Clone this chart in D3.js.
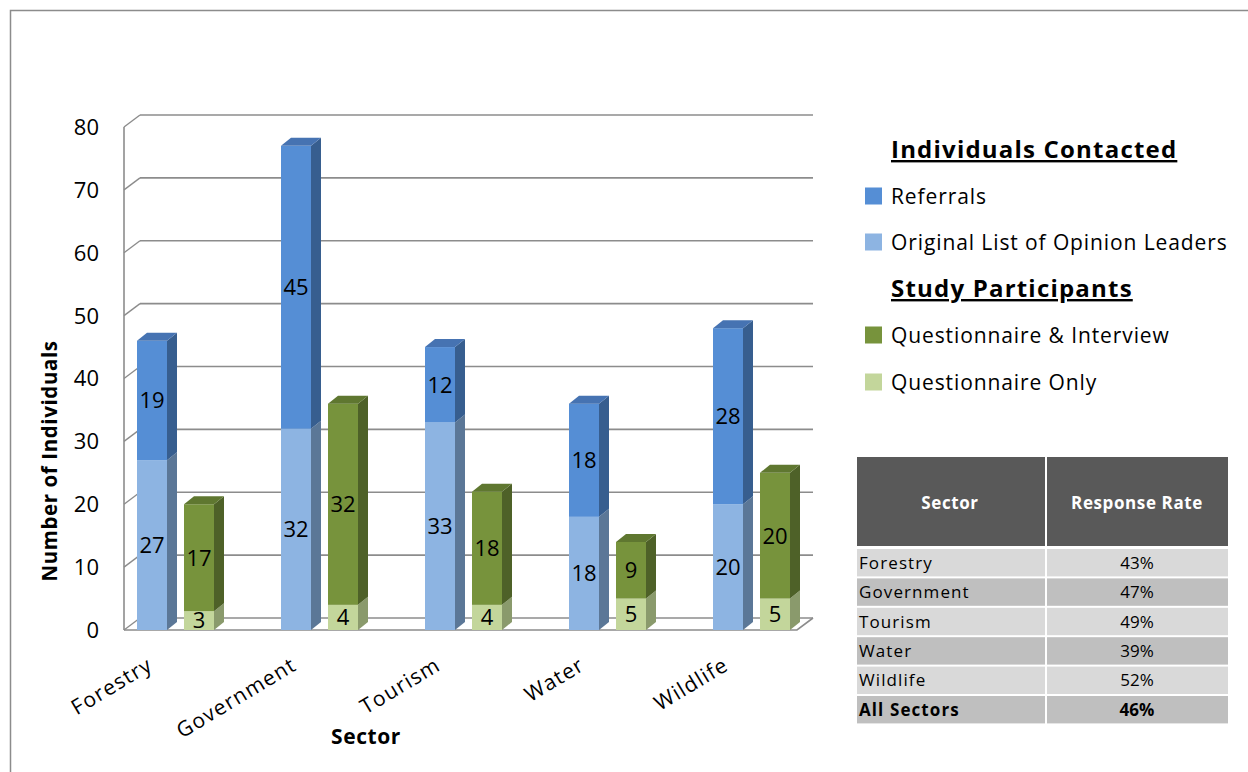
<!DOCTYPE html>
<html>
<head>
<meta charset="utf-8">
<script src="https://cdn.jsdelivr.net/npm/d3@7"></script>
<style>
  html, body { margin: 0; padding: 0; background: #fff; }
  svg { display: block; font-family: "Open Sans", "Noto Sans", sans-serif; }
</style>
</head>
<body>
<svg id="chart" width="1248" height="772"></svg>
<script>
// ---- Data ----
const sectors = ["Forestry", "Government", "Tourism", "Water", "Wildlife"];
const originalList = [27, 32, 33, 18, 20];          // Original List of Opinion Leaders
const referrals = [19, 45, 12, 18, 28];             // Referrals
const questionnaireOnly = [3, 4, 4, 5, 5];          // Questionnaire Only
const questionnaireInterview = [17, 32, 18, 9, 20]; // Questionnaire & Interview
const yTicks = [0, 10, 20, 30, 40, 50, 60, 70, 80];

const tableSectors = ["Forestry", "Government", "Tourism", "Water", "Wildlife", "All Sectors"];
const responseRates = ["43%", "47%", "49%", "39%", "52%", "46%"];

// ---- Styles ----
const colors = {
  referrals:   { front: "#558ED5", side: "#375E8F", top: "#4673B2" },
  original:    { front: "#8DB4E2", side: "#5B7797", top: "#7499C4" },
  qInterview:  { front: "#77933C", side: "#4E6128", top: "#5F7730" },
  qOnly:       { front: "#C3D69B", side: "#8A9A6C", top: "#A7B984" }
};

const svg = d3.select("#chart");

// Outer frame
svg.append("path")
  .attr("d", "M10.5,772 V10.5 H1248")
  .attr("fill", "none").attr("stroke", "#8c8c8c").attr("stroke-width", 1.5);

// ---- Scales ----
const y = d3.scaleLinear().domain([0, 80]).range([630, 127]);
const x0 = d3.scaleBand().domain(sectors).range([115, 835]).paddingInner(0).paddingOuter(0);
const x1 = d3.scaleBand().domain(["contacted", "participants"]).range([22, 99]).paddingInner(0.3617);

const axisX = 124, floorRight = 797;
const wallDX = 16, wallDY = -12;   // depth of back wall
const barDX = 10, barDY = -8;      // depth of each bar

// ---- Back wall gridlines ----
const grid = svg.append("g");
yTicks.forEach(t => {
  const yy = y(t);
  grid.append("line")
    .attr("x1", axisX + wallDX).attr("x2", floorRight + wallDX)
    .attr("y1", yy + wallDY).attr("y2", yy + wallDY)
    .attr("stroke", "#8c8c8c").attr("stroke-width", 1.6);
  grid.append("line")
    .attr("x1", axisX).attr("x2", axisX + wallDX)
    .attr("y1", yy).attr("y2", yy + wallDY)
    .attr("stroke", "#8c8c8c").attr("stroke-width", 1.4);
});
// floor front edge and right edge
grid.append("path")
  .attr("d", `M${axisX},${y(0)} H${floorRight} L${floorRight + wallDX},${y(0) + wallDY}`)
  .attr("fill", "none").attr("stroke", "#8c8c8c").attr("stroke-width", 1.6);
// front vertical axis
grid.append("line")
  .attr("x1", axisX).attr("x2", axisX)
  .attr("y1", y(80)).attr("y2", y(0))
  .attr("stroke", "#8c8c8c").attr("stroke-width", 1.6);

// Y tick labels
svg.append("g").selectAll("text").data(yTicks).join("text")
  .attr("x", 99).attr("y", d => y(d))
  .attr("dy", "0.36em")
  .attr("text-anchor", "end")
  .attr("font-size", 22)
  .attr("fill", "#000")
  .text(d => d);

// ---- Bars ----
function drawStack(g, x, segments) {
  const w = x1.bandwidth();
  let base = 0;
  segments.forEach((seg, i) => {
    const yb = y(base), yt = y(base + seg.value);
    const c = seg.color;
    g.append("rect")
      .attr("x", x).attr("y", yt).attr("width", w).attr("height", yb - yt)
      .attr("fill", c.front);
    g.append("path")
      .attr("d", `M${x + w},${yt} L${x + w + barDX},${yt + barDY} L${x + w + barDX},${yb + barDY} L${x + w},${yb} Z`)
      .attr("fill", c.side);
    if (i === segments.length - 1) {
      g.append("path")
        .attr("d", `M${x},${yt} L${x + barDX},${yt + barDY} L${x + w + barDX},${yt + barDY} L${x + w},${yt} Z`)
        .attr("fill", c.top);
    }
    g.append("text")
      .attr("x", x + w / 2).attr("y", (yb + yt) / 2)
      .attr("dy", "0.36em")
      .attr("text-anchor", "middle")
      .attr("font-size", 22)
      .attr("fill", "#000")
      .text(seg.value);
    base += seg.value;
  });
}

const bars = svg.append("g");
sectors.forEach((s, i) => {
  drawStack(bars, x0(s) + x1("contacted"), [
    { value: originalList[i], color: colors.original },
    { value: referrals[i], color: colors.referrals }
  ]);
  drawStack(bars, x0(s) + x1("participants"), [
    { value: questionnaireOnly[i], color: colors.qOnly },
    { value: questionnaireInterview[i], color: colors.qInterview }
  ]);
});

// X category labels (rotated)
svg.append("g").selectAll("text").data(sectors).join("text")
  .attr("transform", d => `translate(${x0(d) + 39},${669}) rotate(-31)`)
  .attr("text-anchor", "end")
  .attr("font-size", 21)
  .attr("letter-spacing", 1.2)
  .attr("fill", "#000")
  .text(d => d);

// Axis titles
svg.append("text")
  .attr("x", 366).attr("y", 744)
  .attr("text-anchor", "middle")
  .attr("font-size", 21).attr("font-weight", "bold")
  .attr("letter-spacing", 0.6)
  .text("Sector");

svg.append("text")
  .attr("transform", "translate(57,461) rotate(-90)")
  .attr("text-anchor", "middle")
  .attr("font-size", 20.5).attr("font-weight", "bold")
  .attr("letter-spacing", 0.6)
  .text("Number of Individuals");

// ---- Legend ----
const legendGroups = [
  { title: "Individuals Contacted", titleY: 158, items: [
    { label: "Referrals", color: colors.referrals.front, cy: 196 },
    { label: "Original List of Opinion Leaders", color: colors.original.front, cy: 242 }
  ]},
  { title: "Study Participants", titleY: 297, items: [
    { label: "Questionnaire & Interview", color: colors.qInterview.front, cy: 335 },
    { label: "Questionnaire Only", color: colors.qOnly.front, cy: 382 }
  ]}
];
const legend = svg.append("g");
legendGroups.forEach(gr => {
  legend.append("text")
    .attr("x", 891).attr("y", gr.titleY)
    .attr("font-size", 24).attr("font-weight", "bold")
    .attr("letter-spacing", 1.2)
    .attr("text-decoration", "underline")
    .text(gr.title);
  gr.items.forEach(it => {
    legend.append("rect")
      .attr("x", 865).attr("y", it.cy - 8.5).attr("width", 17).attr("height", 17)
      .attr("fill", it.color);
    legend.append("text")
      .attr("x", 891).attr("y", it.cy).attr("dy", "0.36em")
      .attr("font-size", 21)
      .attr("letter-spacing", 0.9)
      .text(it.label);
  });
});

// ---- Response rate table ----
const table = svg.append("g");
const tX = 857, tW = 371, colDiv = 1046, tRight = 1228;
table.append("rect").attr("x", tX).attr("y", 457).attr("width", tW).attr("height", 89).attr("fill", "#595959");
table.append("line").attr("x1", colDiv).attr("x2", colDiv).attr("y1", 457).attr("y2", 546)
  .attr("stroke", "#fff").attr("stroke-width", 2);
table.append("text").attr("x", 950).attr("y", 503).attr("dy", "0.36em")
  .attr("text-anchor", "middle").attr("fill", "#fff").attr("font-size", 17).attr("font-weight", "bold")
  .attr("letter-spacing", 0.6)
  .text("Sector");
table.append("text").attr("x", 1137).attr("y", 503).attr("dy", "0.36em")
  .attr("text-anchor", "middle").attr("fill", "#fff").attr("font-size", 17).attr("font-weight", "bold")
  .attr("letter-spacing", 0.6)
  .text("Response Rate");

const rowTop = 549, rowH = 29.4;
tableSectors.forEach((s, i) => {
  const ry = rowTop + i * rowH;
  const fill = i % 2 === 0 ? "#D9D9D9" : "#BFBFBF";
  const bold = i === tableSectors.length - 1 ? "bold" : "normal";
  table.append("rect").attr("x", tX).attr("y", ry).attr("width", colDiv - 1 - tX).attr("height", rowH - 2).attr("fill", fill);
  table.append("rect").attr("x", colDiv + 1).attr("y", ry).attr("width", tRight - colDiv - 1).attr("height", rowH - 2).attr("fill", fill);
  table.append("text").attr("x", 859).attr("y", ry + (rowH - 2) / 2).attr("dy", "0.36em")
    .attr("font-size", 17).attr("font-weight", bold).attr("letter-spacing", 1.1)
    .attr("fill", "#000").text(s);
  table.append("text").attr("x", 1137).attr("y", ry + (rowH - 2) / 2).attr("dy", "0.36em")
    .attr("text-anchor", "middle").attr("font-size", 17).attr("font-weight", bold).attr("fill", "#000")
    .text(responseRates[i]);
});
</script>
</body>
</html>
